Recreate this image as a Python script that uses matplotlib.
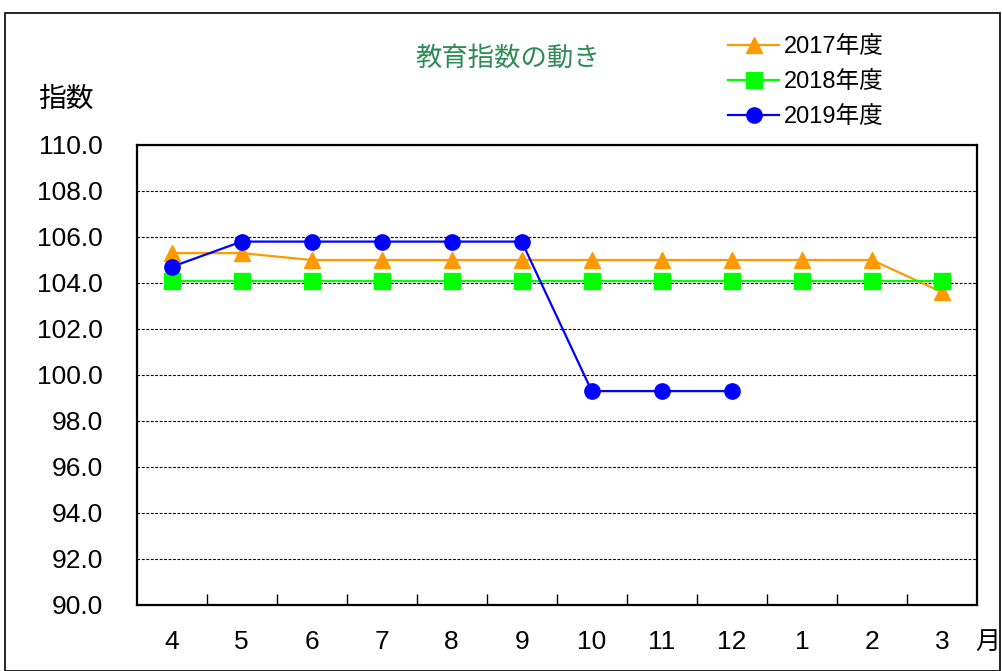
import numpy as np
import matplotlib
matplotlib.use('Agg')
import matplotlib.pyplot as plt
from matplotlib.patches import Rectangle

plt.rcParams['font.family'] = ['Liberation Sans', 'Noto Sans CJK JP']

months = ['4', '5', '6', '7', '8', '9', '10', '11', '12', '1', '2', '3']
idx_2017 = [105.3, 105.3, 105.0, 105.0, 105.0, 105.0, 105.0, 105.0, 105.0, 105.0, 105.0, 103.6]
idx_2018 = [104.1, 104.1, 104.1, 104.1, 104.1, 104.1, 104.1, 104.1, 104.1, 104.1, 104.1, 104.1]
idx_2019 = [104.7, 105.8, 105.8, 105.8, 105.8, 105.8, 99.3, 99.3, 99.3, np.nan, np.nan, np.nan]
labels = ['2017年度', '2018年度', '2019年度']
y_ticks = np.arange(90, 111, 2)

fig = plt.figure(figsize=(10.02, 6.71), dpi=100)
ax = fig.add_axes([136.5 / 1002, 66 / 671, 840.5 / 1002, 460 / 671])

x = np.arange(len(months))
ax.plot(x, idx_2017, color='#FF9900', lw=1.6, marker='^', ms=11, label=labels[0])
ax.plot(x, idx_2018, color='#00FF00', lw=1.6, marker='s', ms=11, label=labels[1])
ax.plot(x, idx_2019, color='#0000FF', lw=1.6, marker='o', ms=11, label=labels[2])

ax.set_xlim(-0.5, len(months) - 0.5)
ax.set_ylim(90, 110)
ax.set_yticks(y_ticks)
ax.set_yticklabels([f'{v:.1f}' for v in y_ticks], fontsize=19)
ax.tick_params(axis='y', length=0, pad=24)
ax.set_xticks(x)
ax.set_xticklabels(months, fontsize=19)
ax.tick_params(axis='x', which='major', length=0, pad=18)
ax.set_xticks(np.arange(0.5, len(months) - 1, 1), minor=True)
ax.tick_params(axis='x', which='minor', direction='in', length=8, width=1)
ax.grid(axis='y', color='black', linestyle=(0, (2.5, 1.5)), linewidth=0.8)
for s in ax.spines.values():
    s.set_linewidth(1.6)

fig.text(508 / 1002, 1 - 58 / 671, '教育指数の動き', color='#2E8B57', fontsize=19,
         ha='center', va='center', family=['Noto Sans CJK JP'])
fig.text(38 / 1002, 1 - 99 / 671, '指数', fontsize=20, ha='left', va='center',
         family=['Noto Sans CJK JP'])
fig.text(975 / 1002, 1 - 642 / 671, '月', fontsize=18, ha='left', va='center',
         family=['Noto Sans CJK JP'])

leg = fig.legend(loc='upper left', bbox_to_anchor=(707 / 1002, 1 - 15 / 671), frameon=False,
                 handlelength=2.15, handletextpad=0.2, labelspacing=0.55,
                 prop={'family': ['Liberation Sans', 'Noto Sans CJK JP'], 'size': 17})

fig.patches.append(Rectangle((5 / 1002, 0), 995 / 1002, 1 - 13 / 671, transform=fig.transFigure,
                             fill=False, edgecolor='black', linewidth=1.2))

fig.savefig('out.png', dpi=100)
